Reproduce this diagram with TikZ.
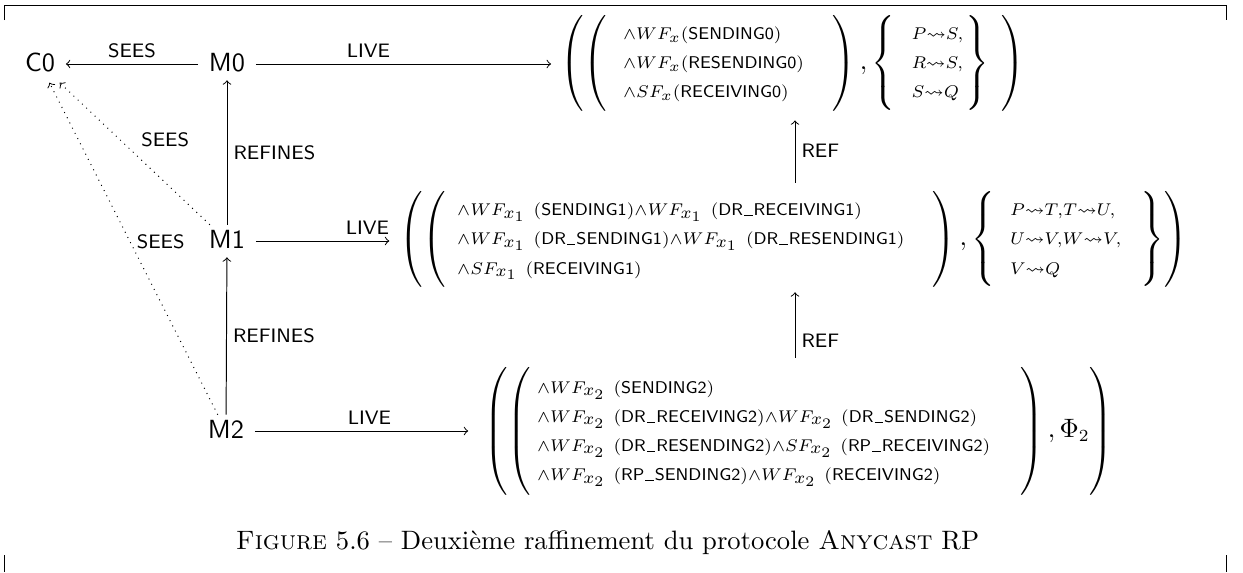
\documentclass[tikz,border=0pt]{standalone}
\usepackage{amsmath,amssymb}
\usepackage{array}
\DeclareMathSizes{10.95}{10.95}{7}{6}
\newcommand{\us}{\mkern1mu\rule[-0.2pt]{3.4pt}{0.35pt}\mkern1mu}
\newcommand{\sub}[1]{_{\scriptstyle x_{#1}}\mkern7mu}
\newcommand{\tallpt}[1]{\vcenter{\hbox{\rule{0pt}{#1}}}}
\tikzset{
  >=to,
  machine/.style={font=\fontsize{10.8}{13}\selectfont\sffamily,
    inner xsep=4.3pt, inner ysep=2pt, text height=7.5pt, text depth=1.5pt},
  lab/.style={font=\fontsize{8}{9.6}\selectfont\sffamily, inner sep=2.5pt},
  prop/.style={inner sep=0pt, anchor=west, font=\fontsize{10.95}{12}\selectfont},
  caption/.style={font=\fontsize{10.95}{13.6}\selectfont, inner sep=0pt, anchor=base}
}
\begin{document}
\begin{tikzpicture}[x=0.4115pt,y=-0.4115pt]
      \useasboundingbox (0,0) rectangle (1243,572);
      \delimiterfactor=990 \delimitershortfall=0.5pt
      % crop marks
      \draw (4,20) -- (4,5) -- (1226,5) -- (1226,20);
      \draw (4,555) -- (4,572) (1226,555) -- (1226,572);
      \draw
        (40,64) node[machine,inner ysep=3pt] (c0){C0}
        (227,64) node[machine] (m0){M0}
        (227,241) node[machine] (m1){M1}
        (226,431) node[machine] (m2){M2};
      \draw
        (560,63) node[prop] (live0){$\left(\left(\tallpt{37pt}\smash{\begin{array}{@{\hspace{6.6pt}}>{\scriptstyle}l@{\hspace{11.6pt}}}
          \wedge WF_{x}(\mathsf{SENDING0})\\
          \wedge WF_{x}(\mathsf{RESENDING0})\\
          \wedge SF_{x}(\mathsf{RECEIVING0})
        \end{array}}\right),\left\{\tallpt{37pt}\smash{\begin{array}{@{\hspace{6.6pt}}>{\scriptstyle}l@{\hspace{1pt}}}
          P\leadsto S,\\
          R\leadsto S,\\
          S\leadsto Q
        \end{array}}\right\}\kern5pt\right)$}
        (399,239) node[prop] (live1){$\left(\left(\tallpt{37pt}\smash{\begin{array}{@{\hspace{4.6pt}}>{\scriptstyle}l@{\hspace{11.3pt}}}
          \wedge WF\sub1(\mathsf{SENDING1})\wedge WF\sub1(\mathsf{DR\us RECEIVING1})\\
          \wedge WF\sub1(\mathsf{DR\us SENDING1})\wedge WF\sub1(\mathsf{DR\us RESENDING1})\\
          \wedge SF\sub1(\mathsf{RECEIVING1})
        \end{array}}\right),\left\{\tallpt{37pt}\smash{\begin{array}{@{\hspace{6.1pt}}>{\scriptstyle}l@{\hspace{8pt}}}
          P\leadsto T,T\leadsto U,\\
          U\leadsto V,W\leadsto V,\\
          V\leadsto Q
        \end{array}}\right\}\right)$}
        (484,431) node[prop] (live2){$\left(\left(\tallpt{50pt}\smash{\begin{array}{@{\hspace{2.5pt}}>{\scriptstyle}l@{\hspace{12.3pt}}}
          \wedge WF\sub2(\mathsf{SENDING2})\\
          \wedge WF\sub2(\mathsf{DR\us RECEIVING2})\wedge WF\sub2(\mathsf{DR\us SENDING2})\\
          \wedge WF\sub2(\mathsf{DR\us RESENDING2})\wedge SF\sub2(\mathsf{RP\us RECEIVING2})\\
          \wedge WF\sub2(\mathsf{RP\us SENDING2})\wedge WF\sub2(\mathsf{RECEIVING2})
        \end{array}}\right),\Phi_2\right)$};
      \coordinate (refx) at (795,0);
      \begin{scope}[->]
        \draw (m0) to node[lab,above]{SEES} (c0);
        \draw (m1) to node[lab,right]{REFINES} (m0);
        \draw (m2) to node[lab,right]{REFINES} (m1);
        \draw[dotted] (m1) to node[lab,above right,pos=.5]{SEES} (c0);
        \draw[dotted] (m2) to node[lab,right,pos=.52]{SEES} (c0);
        \draw[shorten >=3.7pt] (m0) to node[lab,above,pos=.37]{LIVE} (m0 -| live0.west);
        \draw[shorten >=4pt] (m1) to node[lab,above,pos=.78]{LIVE} (m1 -| live1.west);
        \draw[shorten >=6.5pt] (m2) to node[lab,above,pos=.5]{LIVE} (m2 -| live2.west);
        \draw[shorten <=3.3pt,shorten >=3.7pt] (live1.north -| refx) to node[lab,right]{REF} (live0.south -| refx);
        \draw[shorten <=3.7pt,shorten >=2pt] (live2.north -| refx) to node[lab,right,pos=.33]{REF} (live1.south -| refx);
      \end{scope}
      \node[caption] (cap) at (607.5,549)
        {\textsc{Figure} 5.6 -- Deuxi\`eme raffinement du protocole \textsc{Anycast} RP};
    \end{tikzpicture}
\end{document}
